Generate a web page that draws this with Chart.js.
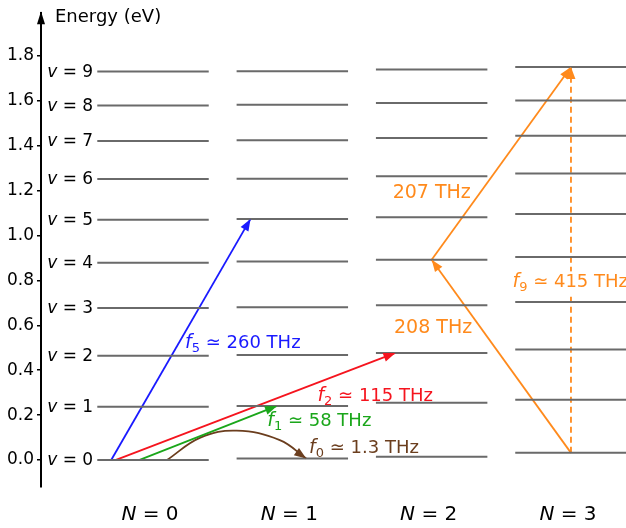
<!DOCTYPE html>
<html>
<head>
<meta charset="utf-8">
<script src="https://cdn.jsdelivr.net/npm/chart.js@4.4.0/dist/chart.umd.min.js"></script>
<style>
  html, body { margin: 0; padding: 0; background: #fff; }
  canvas { display: block; }
</style>
</head>
<body>
<canvas id="graficoNiveles" width="626" height="528"></canvas>
<script>
// estados rotacionales N y niveles vibracionales v (energia en eV)
const estadosN = ['0', '1', '2', '3'];
const vibracion = ['0', '1', '2', '3', '4', '5', '6', '7', '8', '9'];
const nivelesN0 = [0.000, 0.237, 0.464, 0.677, 0.879, 1.070, 1.252, 1.421, 1.579, 1.730];
const nivelesN1 = [0.007, 0.241, 0.468, 0.681, 0.884, 1.074, 1.253, 1.424, 1.582, 1.732];
const nivelesN2 = [0.015, 0.255, 0.477, 0.689, 0.892, 1.081, 1.264, 1.434, 1.590, 1.739];
const nivelesN3 = [0.032, 0.268, 0.492, 0.704, 0.904, 1.096, 1.276, 1.444, 1.601, 1.750];
const ticksEnergia = [0.0, 0.2, 0.4, 0.6, 0.8, 1.0, 1.2, 1.4, 1.6, 1.8];

// transiciones (x en unidades de N, y en eV)
const flechaF5 = [{ x: -0.30, y: 0.000 }, { x: 0.70, y: 1.074 }];
const flechaF2 = [{ x: -0.27, y: 0.000 }, { x: 1.74, y: 0.477 }];
const flechaF1 = [{ x: -0.10, y: 0.000 }, { x: 0.89, y: 0.241 }];
const flechaF0 = [{ x: 0.10, y: 0.000 }, { x: 0.34, y: 0.100 }, { x: 0.60, y: 0.131 }, { x: 0.91, y: 0.089 }, { x: 1.10, y: 0.007 }];
const flecha208 = [{ x: 3.00, y: 0.032 }, { x: 2.00, y: 0.892 }];
const flecha207 = [{ x: 2.00, y: 0.892 }, { x: 3.00, y: 1.750 }];
const flechaF9 = [{ x: 3.00, y: 0.032 }, { x: 3.00, y: 1.750 }];

const fuente = 'DejaVu Sans';
const colores = {
  azul: '#1a1aff', rojo: '#f5141e', verde: '#1aa61a', cafe: '#6b3e1e', naranja: '#ff8a1c', gris: '#6a6a6a'
};

function nivelesComoLinea(niveles, n) {
  const puntos = [];
  niveles.forEach(e => {
    puntos.push({ x: n - 0.4, y: e });
    puntos.push({ x: n + 0.4, y: e });
    puntos.push({ x: n, y: null });
  });
  return puntos;
}

const todosNiveles = [nivelesN0, nivelesN1, nivelesN2, nivelesN3];

const datasets = todosNiveles.map((niv, i) => ({
  data: nivelesComoLinea(niv, i),
  borderColor: colores.gris,
  borderWidth: 2,
  pointRadius: 0,
  spanGaps: false
}));

function flecha(data, color, extra) {
  return Object.assign({
    data: data,
    borderColor: color,
    borderWidth: 1.8,
    pointRadius: 0,
    tension: 0,
    flecha: true
  }, extra || {});
}

datasets.push(flecha(flechaF5, colores.azul));
datasets.push(flecha(flechaF2, colores.rojo));
datasets.push(flecha(flechaF1, colores.verde));
datasets.push(flecha(flechaF0, colores.cafe, { tension: 0.4 }));
datasets.push(flecha(flecha208, colores.naranja));
datasets.push(flecha(flecha207, colores.naranja));
datasets.push(flecha(flechaF9, colores.naranja, { borderDash: [6, 4] }));

// etiquetas de texto (posicion en coordenadas de datos)
const etiquetas = [
  { x: 0.23, y: 0.498, color: colores.azul, sub: '5', texto: ' \u2243 260 THz' },
  { x: 1.18, y: 0.262, color: colores.rojo, sub: '2', texto: ' \u2243 115 THz' },
  { x: 0.82, y: 0.151, color: colores.verde, sub: '1', texto: ' \u2243 58 THz' },
  { x: 1.12, y: 0.031, color: colores.cafe, sub: '0', texto: ' \u2243 1.3 THz' },
  { x: 1.72, y: 1.169, color: colores.naranja, texto: '207 THz' },
  { x: 1.73, y: 0.564, color: colores.naranja, texto: '208 THz' },
  { x: 2.58, y: 0.769, color: colores.naranja, sub: '9', texto: ' \u2243 415 THz', fondo: true }
];

function escribir(ctx, x, y, partes, alinear) {
  let ancho = 0;
  partes.forEach(p => { ctx.font = p.font; ancho += ctx.measureText(p.t).width; });
  let cx = x;
  if (alinear === 'right') cx = x - ancho;
  if (alinear === 'center') cx = x - ancho / 2;
  ctx.textAlign = 'left';
  partes.forEach(p => {
    ctx.font = p.font;
    ctx.fillText(p.t, cx, y + (p.dy || 0));
    cx += ctx.measureText(p.t).width;
  });
  return ancho;
}

const dibujoExtra = {
  id: 'dibujoExtra',
  afterDatasetsDraw(chart) {
    const ctx = chart.ctx;
    const ejeX = chart.scales.x;
    const ejeY = chart.scales.y;
    const area = chart.chartArea;
    ctx.save();

    // puntas de flecha
    chart.data.datasets.forEach((ds, i) => {
      if (!ds.flecha) return;
      const meta = chart.getDatasetMeta(i);
      const pts = meta.data;
      const fin = pts[pts.length - 1];
      let ox = pts[pts.length - 2].x;
      let oy = pts[pts.length - 2].y;
      if (ds.tension && fin.cp1x !== undefined) { ox = fin.cp1x; oy = fin.cp1y; }
      const ang = Math.atan2(fin.y - oy, fin.x - ox);
      const largo = 12, medio = 4.5;
      ctx.fillStyle = ds.borderColor;
      ctx.beginPath();
      ctx.moveTo(fin.x, fin.y);
      ctx.lineTo(fin.x - largo * Math.cos(ang) + medio * Math.sin(ang), fin.y - largo * Math.sin(ang) - medio * Math.cos(ang));
      ctx.lineTo(fin.x - largo * Math.cos(ang) - medio * Math.sin(ang), fin.y - largo * Math.sin(ang) + medio * Math.cos(ang));
      ctx.closePath();
      ctx.fill();
    });

    // etiquetas de frecuencia
    ctx.textBaseline = 'alphabetic';
    etiquetas.forEach(et => {
      const px = ejeX.getPixelForValue(et.x);
      const py = ejeY.getPixelForValue(et.y);
      const partes = [];
      if (et.sub) {
        partes.push({ t: 'f', font: 'italic 19px "' + fuente + '"' });
        partes.push({ t: et.sub, font: '13px "' + fuente + '"', dy: 4 });
        partes.push({ t: et.texto, font: '18px "' + fuente + '"' });
      } else {
        partes.push({ t: et.texto, font: '19px "' + fuente + '"' });
      }
      if (et.fondo) {
        let ancho = 0;
        partes.forEach(p => { ctx.font = p.font; ancho += ctx.measureText(p.t).width; });
        ctx.fillStyle = '#fff';
        ctx.fillRect(px - 2, py - 16, ancho + 4, 22);
      }
      ctx.fillStyle = et.color;
      escribir(ctx, px, py, partes, 'left');
    });

    // etiquetas v = n a la izquierda de N = 0
    ctx.fillStyle = '#000';
    ctx.textBaseline = 'middle';
    vibracion.forEach((v, i) => {
      const py = ejeY.getPixelForValue(nivelesN0[i]);
      const px = ejeX.getPixelForValue(-0.43);
      escribir(ctx, px, py + 1, [
        { t: 'v', font: 'italic 17px "' + fuente + '"' },
        { t: ' = ' + v, font: '17px "' + fuente + '"' }
      ], 'right');
    });

    // etiquetas N = k abajo
    ctx.textBaseline = 'alphabetic';
    estadosN.forEach((n, i) => {
      const px = ejeX.getPixelForValue(i) - 3;
      escribir(ctx, px, 520, [
        { t: 'N', font: 'italic 20px "' + fuente + '"' },
        { t: ' = ' + n, font: '20px "' + fuente + '"' }
      ], 'center');
    });

    // titulo del eje y punta de flecha
    ctx.font = '18px "' + fuente + '"';
    ctx.fillText('Energy (eV)', area.left + 14, 22);
    ctx.fillStyle = '#000';
    ctx.beginPath();
    ctx.moveTo(area.left, area.top - 2);
    ctx.lineTo(area.left - 4, area.top + 11);
    ctx.lineTo(area.left + 4, area.top + 11);
    ctx.closePath();
    ctx.fill();

    ctx.restore();
  }
};

const ctx = document.getElementById('graficoNiveles').getContext('2d');
new Chart(ctx, {
  type: 'line',
  data: { datasets: datasets },
  plugins: [dibujoExtra],
  options: {
    responsive: false,
    animation: false,
    events: [],
    layout: { padding: { top: 12, bottom: 41, left: 0, right: 0 } },
    plugins: { legend: { display: false }, tooltip: { enabled: false } },
    scales: {
      x: { type: 'linear', min: -0.804, max: 3.395, display: false },
      y: {
        type: 'linear',
        min: -0.12,
        max: 1.99,
        afterBuildTicks: eje => { eje.ticks = ticksEnergia.map(v => ({ value: v })); },
        afterFit: eje => { eje.width = 41; },
        border: { display: true, color: '#000', width: 2 },
        grid: { drawOnChartArea: false, drawTicks: true, tickLength: 4, color: '#000', lineWidth: 1.5 },
        ticks: {
          color: '#000',
          padding: 3,
          font: { family: fuente, size: 17 },
          callback: v => Number(v).toFixed(1)
        }
      }
    }
  }
});
</script>
</body>
</html>
